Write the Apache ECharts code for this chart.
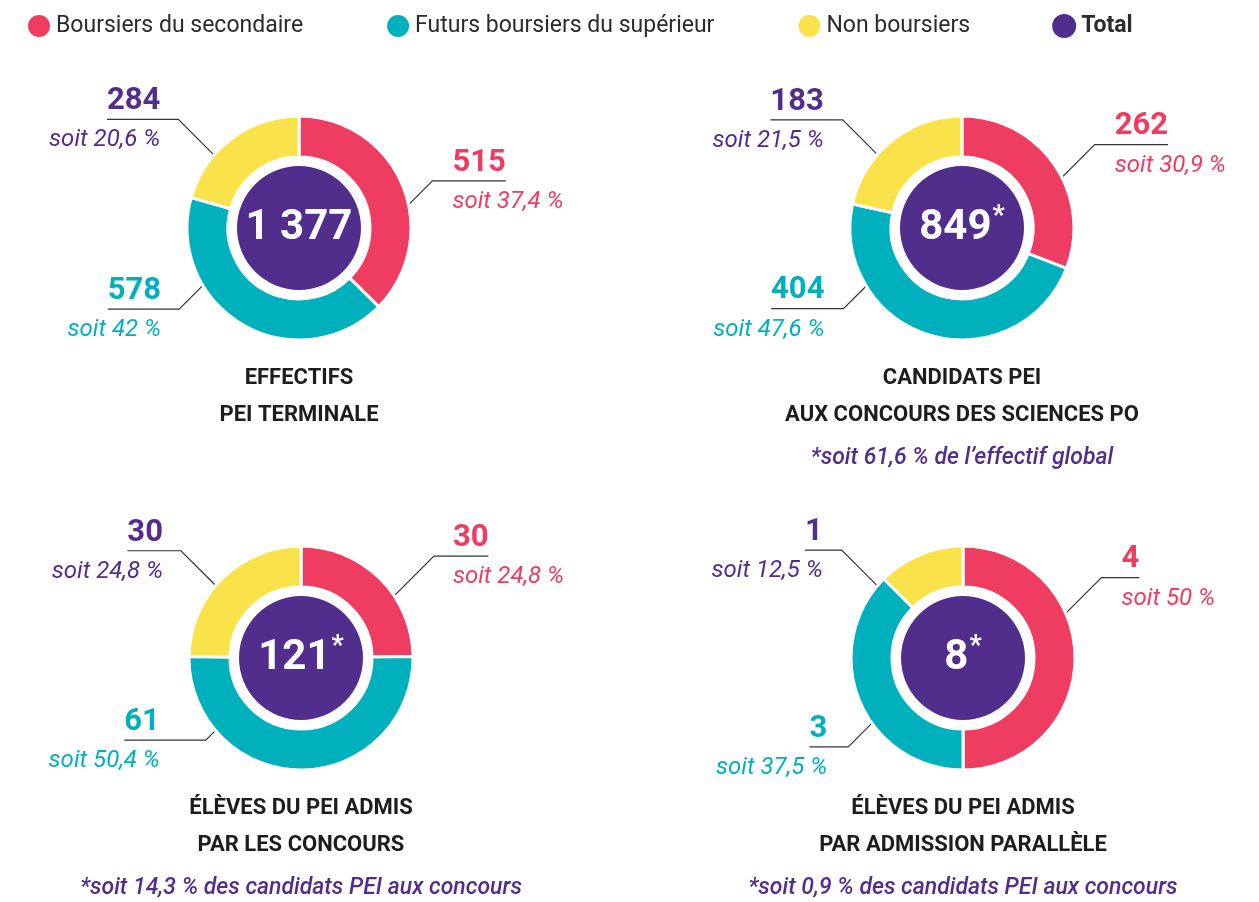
<!DOCTYPE html>
<html>
<head>
<meta charset="utf-8">
<title>PEI - effectifs et admissions</title>
<script src="https://cdn.jsdelivr.net/npm/echarts@6/dist/echarts.min.js"></script>
<style>html, body { margin: 0; background: #fff; }</style>
</head>
<body>
<div id="main" style="width:1259px;height:902px;"></div>
<script>
// données
var categories = ['Boursiers du secondaire', 'Futurs boursiers du supérieur', 'Non boursiers'];
var totalName = 'Total';
var values = [
    [515, 578, 284],
    [262, 404, 183],
    [30, 61, 30],
    [4, 3, 1]
];
var shares = [
    ['37,4', '42', '20,6'],
    ['30,9', '47,6', '21,5'],
    ['24,8', '50,4', '24,8'],
    ['50', '37,5', '12,5']
];
var totalMarks = ['', '*', '*', '*'];
var chartTitles = [
    'EFFECTIFS\nPEI TERMINALE',
    'CANDIDATS PEI\nAUX CONCOURS DES SCIENCES PO',
    'ÉLÈVES DU PEI ADMIS\nPAR LES CONCOURS',
    'ÉLÈVES DU PEI ADMIS\nPAR ADMISSION PARALLÈLE'
];
var chartNotes = [
    '',
    '*soit 61,6 % de l’effectif global',
    '*soit 14,3 % des candidats PEI aux concours',
    '*soit 0,9 % des candidats PEI aux concours'
];

// mise en page / styles
var sliceColors = ['#EF3C61', '#00B1BD', '#F9E24A'];
var labelColors = ['#EF3C61', '#00B1BD', '#512D8C'];
var purple = '#512D8C';
var centers = [[299, 228], [962, 228], [301, 658], [963, 658]];
var titleTops = [360, 360, 790, 790];
// point d'accroche des traits (degrés depuis le haut, sens horaire), diagonale, palier
var leaderAngle = [[77.7, 239, 310.7], [63, 238.7, 311], [56.2, 229.7, 310.4], [66.3, 234.3, 310.2]];
var leaderDiag = [[23, 23, 35], [32, 22, 34], [39, 9, 34], [35, 23, 35]];
var leaderRun = [[20, 18, 18], [20, 19, 19], [19, 46, 18], [20, 21, 19]];
var anchorR = 113;
var numFont = 'bold 31px Roboto';
var numLineH = 36;

var ctx = document.createElement('canvas').getContext('2d');
function textWidth(s, font) {
    ctx.font = font;
    return ctx.measureText(s).width;
}
function fmt(n) {
    return String(n).replace(/\B(?=(\d{3})+(?!\d))/g, ' ');
}

var myChart = echarts.init(document.getElementById('main'));

var rich = {};
labelColors.forEach(function (col, i) {
    rich['v' + i] = { color: col, fontFamily: 'Roboto', fontWeight: 'bold', fontSize: 31, lineHeight: numLineH };
    rich['p' + i] = { color: col, fontFamily: 'Roboto', fontStyle: 'italic', fontSize: 24, lineHeight: 42 };
});

var series = [];
var titles = [];
values.forEach(function (vals, k) {
    var total = vals.reduce(function (a, b) { return a + b; }, 0);

    series.push({
        type: 'pie',
        center: centers[k],
        radius: [71, 112],
        startAngle: 90,
        clockwise: true,
        avoidLabelOverlap: false,
        emphasis: { disabled: true },
        itemStyle: { borderColor: '#fff', borderWidth: 3 },
        label: {
            show: true,
            position: 'outside',
            formatter: function (p) {
                var i = p.dataIndex;
                return '{v' + i + '|' + fmt(p.value) + '}\n{p' + i + '|soit ' + shares[k][i] + ' %}';
            },
            rich: rich
        },
        labelLine: { show: true, length: 10, length2: 10, lineStyle: { color: '#333', width: 1.2 } },
        labelLayout: function (p) {
            var i = p.dataIndex;
            var c = centers[k];
            var th = leaderAngle[k][i] * Math.PI / 180;
            var sx = Math.sin(th) < 0 ? -1 : 1;
            var sy = Math.cos(th) > 0 ? -1 : 1;
            var ax = c[0] + anchorR * Math.sin(th);
            var ay = c[1] - anchorR * Math.cos(th);
            var ex = ax + sx * leaderDiag[k][i];
            var ey = ay + sy * leaderDiag[k][i];
            var tx = ex + sx * leaderRun[k][i];
            var w = textWidth(fmt(vals[i]), numFont);
            return {
                x: tx,
                y: ey - numLineH,
                align: sx < 0 ? 'right' : 'left',
                verticalAlign: 'top',
                labelLinePoints: [[ax, ay], [ex, ey], [tx + sx * w, ey]]
            };
        },
        data: categories.map(function (name, i) {
            return { name: name, value: vals[i], itemStyle: { color: sliceColors[i] } };
        })
    });

    series.push({
        type: 'pie',
        center: centers[k],
        radius: [0, 62],
        silent: true,
        emphasis: { disabled: true },
        label: {
            show: true,
            position: 'center',
            formatter: function (p) {
                return '{t|' + fmt(p.value) + '}' + (totalMarks[k] ? '{s|' + totalMarks[k] + '}' : '');
            },
            rich: {
                t: { color: '#fff', fontFamily: 'Roboto', fontWeight: 'bold', fontSize: 42 },
                s: { color: '#fff', fontFamily: 'Roboto', fontWeight: 'bold', fontSize: 27, padding: [0, 0, 22, 1] }
            }
        },
        labelLine: { show: false },
        data: [{ name: totalName, value: total, itemStyle: { color: purple } }]
    });

    titles.push({
        text: chartTitles[k],
        subtext: chartNotes[k],
        left: centers[k][0],
        top: titleTops[k],
        textAlign: 'center',
        padding: 0,
        itemGap: 11,
        textStyle: { fontFamily: 'Roboto', fontWeight: 'bold', fontSize: 22, lineHeight: 37, color: '#1d1d1b' },
        subtextStyle: { fontFamily: 'Roboto', fontStyle: 'italic', fontWeight: 500, fontSize: 23, lineHeight: 26, color: purple }
    });
});

var option = {
    animation: false,
    title: titles,
    legend: {
        left: 26,
        top: 13,
        padding: 0,
        icon: 'circle',
        itemWidth: 24,
        itemHeight: 24,
        itemGap: 82,
        selectedMode: false,
        textStyle: { fontFamily: 'Roboto', fontSize: 23, color: '#2b2b2b' },
        data: categories.concat([{ name: totalName, textStyle: { fontWeight: 'bold' } }])
    },
    series: series
};

myChart.setOption(option);
</script>
</body>
</html>
